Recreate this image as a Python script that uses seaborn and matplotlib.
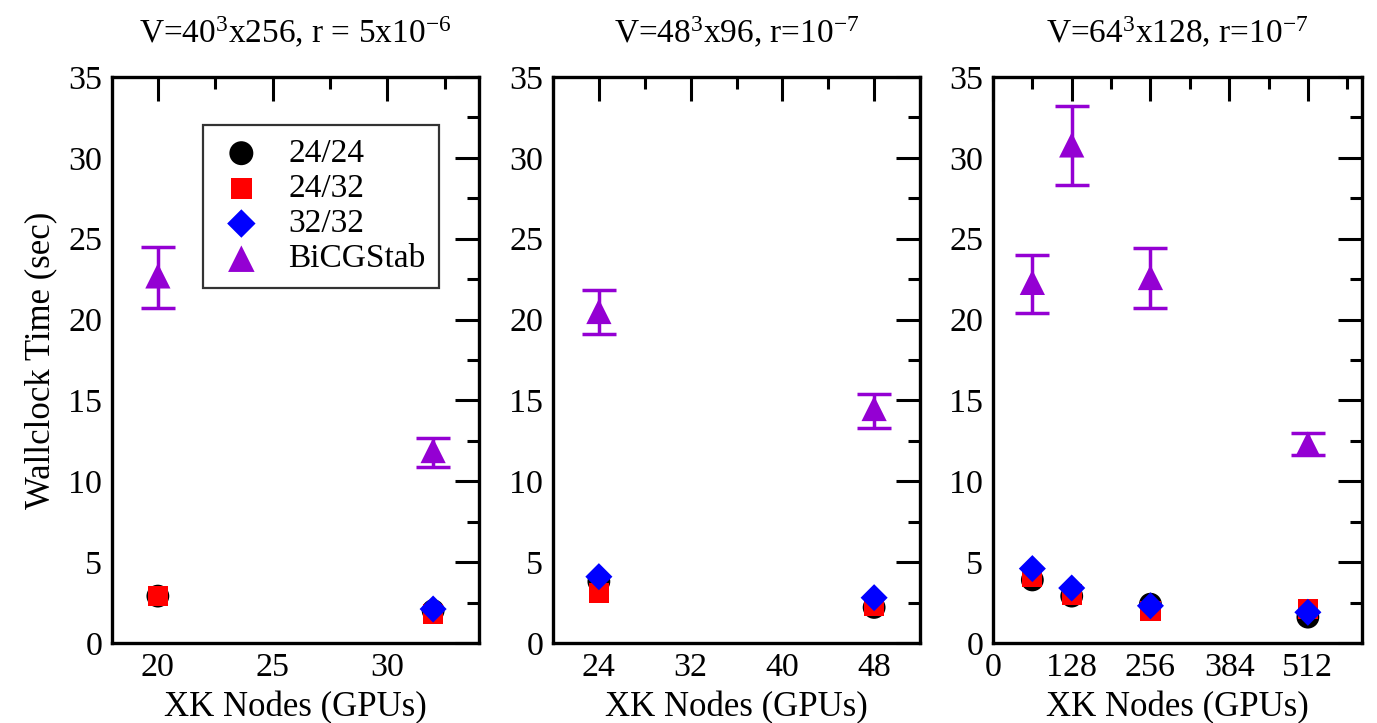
import matplotlib
matplotlib.use("Agg")
import numpy as np
import pandas as pd
import seaborn as sns
import matplotlib.pyplot as plt
from matplotlib.ticker import MultipleLocator

sns.set_theme(style="white")
plt.rcParams["font.family"] = ["Liberation Serif", "DejaVu Serif"]
plt.rcParams["mathtext.fontset"] = "custom"
plt.rcParams["mathtext.rm"] = "Liberation Serif"
plt.rcParams["mathtext.it"] = "Liberation Serif:italic"
plt.rcParams["mathtext.bf"] = "Liberation Serif:bold"
for k in ["text.color", "axes.labelcolor", "xtick.color", "ytick.color", "axes.edgecolor"]:
    plt.rcParams[k] = "black"

# ---------------- data ----------------
titles = [r"V=40$^{3}$x256, r = 5x10$^{-6}$",
          r"V=48$^{3}$x96, r=10$^{-7}$",
          r"V=64$^{3}$x128, r=10$^{-7}$"]
series_names = ["24/24", "24/32", "32/32", "BiCGStab"]

p1_nodes = [20, 32]
p1_2424 = [2.9, 2.0]
p1_2432 = [2.9, 1.8]
p1_3232 = [np.nan, 2.1]
p1_bicg = [22.7, 11.9]
p1_bicg_lo = [20.7, 10.9]
p1_bicg_hi = [24.5, 12.7]

p2_nodes = [24, 48]
p2_2424 = [3.8, 2.2]
p2_2432 = [3.1, 2.3]
p2_3232 = [4.1, 2.8]
p2_bicg = [20.5, 14.5]
p2_bicg_lo = [19.1, 13.3]
p2_bicg_hi = [21.8, 15.4]

p3_nodes = [64, 128, 256, 512]
p3_2424 = [3.9, 2.9, 2.4, 1.6]
p3_2432 = [4.1, 3.0, 2.0, 2.1]
p3_3232 = [4.6, 3.4, 2.3, 1.9]
p3_bicg = [22.3, 30.8, 22.6, 12.3]
p3_bicg_lo = [20.4, 28.3, 20.7, 11.6]
p3_bicg_hi = [24.0, 33.2, 24.4, 13.0]

panels = [
    (p1_nodes, p1_2424, p1_2432, p1_3232, p1_bicg, p1_bicg_lo, p1_bicg_hi),
    (p2_nodes, p2_2424, p2_2432, p2_3232, p2_bicg, p2_bicg_lo, p2_bicg_hi),
    (p3_nodes, p3_2424, p3_2432, p3_3232, p3_bicg, p3_bicg_lo, p3_bicg_hi),
]

xlims = [(18, 34), (20, 52), (0, 600)]
xmajor = [5, 8, 128]
xminor = [2.5, 4, 64]

colors = {"24/24": "black", "24/32": "#ff0000", "32/32": "#0000ff", "BiCGStab": "#9400d3"}
markers = {"24/24": "o", "24/32": "s", "32/32": "D", "BiCGStab": "^"}
sizes = {"24/24": 270, "24/32": 210, "32/32": 190, "BiCGStab": 330}

fig = plt.figure(figsize=(13.77, 7.23), dpi=100)
W, H = 1377, 723
ax_px = [(112, 479), (553, 920), (993, 1362)]
top_px, bot_px = 77, 643

for i, (nodes, a, b, c, bi, lo, hi) in enumerate(panels):
    l, r = ax_px[i]
    ax = fig.add_axes([l / W, 1 - bot_px / H, (r - l) / W, (bot_px - top_px) / H])
    df = pd.DataFrame({
        "nodes": list(nodes) * 4,
        "time": list(a) + list(b) + list(c) + list(bi),
        "solver": sum([[s] * len(nodes) for s in series_names], []),
    })
    for s in series_names:
        sub = df[df["solver"] == s].dropna()
        sns.scatterplot(data=sub, x="nodes", y="time", color=colors[s],
                        marker=markers[s], s=sizes[s], edgecolor="none",
                        linewidth=0, ax=ax, label=s, zorder=3)
    bi_arr = np.array(bi)
    ax.errorbar(nodes, bi, yerr=[bi_arr - np.array(lo), np.array(hi) - bi_arr],
                fmt="none", ecolor=colors["BiCGStab"], elinewidth=2.5,
                capsize=12, capthick=2.5, zorder=2)

    ax.set_xlim(*xlims[i])
    ax.set_ylim(0, 35)
    ax.xaxis.set_major_locator(MultipleLocator(xmajor[i]))
    ax.xaxis.set_minor_locator(MultipleLocator(xminor[i]))
    ax.yaxis.set_major_locator(MultipleLocator(5))
    ax.yaxis.set_minor_locator(MultipleLocator(2.5))
    ax.tick_params(which="both", direction="in", top=True, right=True,
                   width=2.2, colors="black", labelsize=24.5, pad=7)
    ax.tick_params(which="major", length=17)
    ax.tick_params(which="minor", length=8.5)
    for sp in ax.spines.values():
        sp.set_linewidth(2.4)
        sp.set_color("black")
    ax.set_xlabel("XK Nodes (GPUs)", fontsize=25, labelpad=6)
    ax.set_ylabel("Wallclock Time (sec)" if i == 0 else "", fontsize=25, labelpad=8)
    ax.set_title(titles[i], fontsize=24, pad=24)

    if i == 0:
        leg = ax.legend(loc="upper left", bbox_to_anchor=(0.248, 0.915),
                        fontsize=24, frameon=True, fancybox=False,
                        labelspacing=0.14, handletextpad=0.65, borderpad=0.4,
                        handlelength=1.5, borderaxespad=0, markerscale=1.05)
        leg.get_frame().set_edgecolor("black")
        leg.get_frame().set_linewidth(1.6)
    else:
        if ax.get_legend() is not None:
            ax.get_legend().remove()

fig.savefig("out.png", dpi=100)
